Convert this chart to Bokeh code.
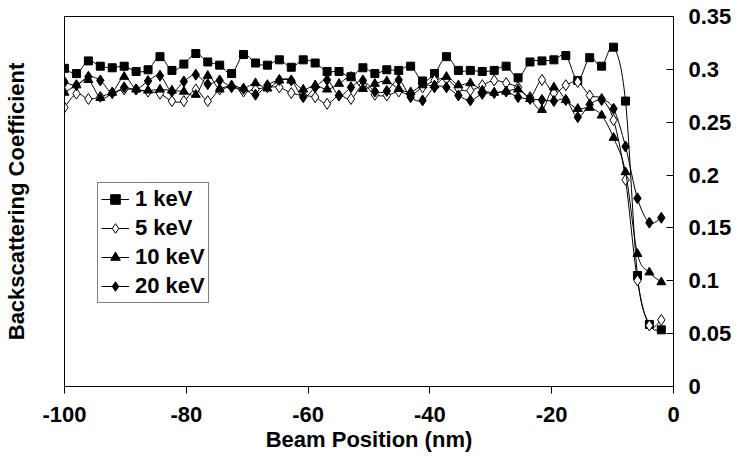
from bokeh.plotting import figure
from bokeh.models import LinearAxis, FixedTicker, Legend, LegendItem, Range1d, ColumnDataSource
from bokeh.embed import file_html
from bokeh.resources import INLINE

# ---- data ----
beam_position = [-100.0, -98.04, -96.08, -94.12, -92.16, -90.2, -88.24, -86.28, -84.32, -82.36,
                 -80.4, -78.44, -76.48, -74.52, -72.56, -70.6, -68.64, -66.68, -64.72, -62.76,
                 -60.8, -58.84, -56.88, -54.92, -52.96, -51.0, -49.04, -47.08, -45.12, -43.16,
                 -41.2, -39.24, -37.28, -35.32, -33.36, -31.4, -29.44, -27.48, -25.52, -23.56,
                 -21.6, -19.64, -17.68, -15.72, -13.76, -11.8, -9.84, -7.88, -5.92, -3.96, -2.0]

kev1 = [0.301, 0.296, 0.308, 0.303, 0.3015, 0.303, 0.298, 0.2996, 0.312, 0.299,
        0.305, 0.315, 0.307, 0.304, 0.296, 0.314, 0.306, 0.304, 0.309, 0.302,
        0.309, 0.306, 0.298, 0.298, 0.293, 0.3015, 0.296, 0.2996, 0.299, 0.303,
        0.289, 0.296, 0.312, 0.299, 0.299, 0.298, 0.299, 0.303, 0.292, 0.307,
        0.308, 0.309, 0.313, 0.2895, 0.311, 0.303, 0.321, 0.27, 0.105, 0.0587, 0.0536]

kev5 = [0.264, 0.277, 0.272, 0.274, 0.278, 0.281, 0.281, 0.279, 0.277, 0.27,
        0.27, 0.281, 0.27, 0.281, 0.284, 0.279, 0.281, 0.283, 0.283, 0.2776,
        0.2753, 0.2737, 0.2674, 0.2753, 0.272, 0.285, 0.276, 0.2753, 0.279, 0.276,
        0.283, 0.2895, 0.291, 0.2816, 0.280, 0.285, 0.2895, 0.287, 0.283, 0.2737,
        0.290, 0.2776, 0.285, 0.288, 0.2753, 0.272, 0.252, 0.1955, 0.1003, 0.0577, 0.063]

kev10 = [0.278, 0.285, 0.29, 0.273, 0.278, 0.293, 0.281, 0.28, 0.281, 0.280,
         0.279, 0.276, 0.294, 0.281, 0.285, 0.282, 0.287, 0.282, 0.2895, 0.2895,
         0.281, 0.285, 0.281, 0.2864, 0.293, 0.2816, 0.2864, 0.2888, 0.2816, 0.2785,
         0.285, 0.285, 0.293, 0.285, 0.287, 0.28, 0.278, 0.279, 0.281, 0.272,
         0.2617, 0.283, 0.271, 0.2627, 0.2637, 0.2564, 0.2353, 0.2028, 0.1255, 0.108, 0.0987]

kev20 = [0.288, 0.285, 0.293, 0.2895, 0.2775, 0.283, 0.281, 0.289, 0.294, 0.279,
         0.2886, 0.295, 0.286, 0.2895, 0.283, 0.2816, 0.276, 0.285, 0.29, 0.2895,
         0.2737, 0.283, 0.29, 0.2753, 0.283, 0.2895, 0.279, 0.2795, 0.29, 0.2737,
         0.2706, 0.283, 0.283, 0.2753, 0.2706, 0.2768, 0.2776, 0.279, 0.2737, 0.272,
         0.271, 0.270, 0.271, 0.2548, 0.2668, 0.271, 0.2627, 0.227, 0.178, 0.155, 0.1596]

series_labels = ["1 keV", "5 keV", "10 keV", "20 keV"]
x_ticks = [-100, -80, -60, -40, -20, 0]
x_tick_labels = ["-100", "-80", "-60", "-40", "-20", "0"]
y_ticks = [0, 0.05, 0.1, 0.15, 0.2, 0.25, 0.3, 0.35]
y_tick_labels = ["0", "0.05", "0.1", "0.15", "0.2", "0.25", "0.3", "0.35"]

FONT = "Liberation Sans"
FS = "22px"


def smooth_segments(xs, ys):
    """Cubic Bezier segments through the points (Catmull-Rom style smoothing)."""
    n = len(xs)
    d = dict(x0=[], y0=[], x1=[], y1=[], cx0=[], cy0=[], cx1=[], cy1=[])
    for i in range(n - 1):
        a = i - 1 if i > 0 else i
        b = i + 2 if i + 2 < n else i + 1
        d["x0"].append(xs[i]); d["y0"].append(ys[i])
        d["x1"].append(xs[i + 1]); d["y1"].append(ys[i + 1])
        d["cx0"].append(xs[i] + (xs[i + 1] - xs[a]) / 6.0)
        d["cy0"].append(ys[i] + (ys[i + 1] - ys[a]) / 6.0)
        d["cx1"].append(xs[i + 1] - (xs[b] - xs[i]) / 6.0)
        d["cy1"].append(ys[i + 1] - (ys[b] - ys[i]) / 6.0)
    return ColumnDataSource(d)


p = figure(frame_width=609, frame_height=370,
           x_range=Range1d(-100, 0), y_range=Range1d(0, 0.35),
           output_backend="svg", toolbar_location=None,
           x_axis_location="below", y_axis_location="right",
           min_border_left=63, min_border_right=62,
           min_border_top=16, min_border_bottom=75)
p.grid.visible = False
p.outline_line_color = "black"
p.outline_line_width = 1
p.background_fill_color = "white"
p.border_fill_color = "white"

# x axis
xa = p.xaxis[0]
xa.ticker = FixedTicker(ticks=x_ticks)
xa.major_label_overrides = {t: s for t, s in zip(x_ticks, x_tick_labels)}
xa.major_tick_in = 0
xa.major_tick_out = 7
xa.minor_tick_line_color = None
xa.axis_line_color = "black"
xa.major_label_text_font = FONT
xa.major_label_text_font_style = "bold"
xa.major_label_text_font_size = FS
xa.major_label_text_color = "black"
xa.major_label_standoff = 13
xa.axis_label = "Beam Position (nm)"
xa.axis_label_text_font = FONT
xa.axis_label_text_font_style = "bold"
xa.axis_label_text_font_size = FS
xa.axis_label_text_color = "black"
xa.axis_label_standoff = 2

# right y axis with tick labels
ya = p.yaxis[0]
ya.ticker = FixedTicker(ticks=y_ticks)
ya.major_label_overrides = {t: s for t, s in zip(y_ticks, y_tick_labels)}
ya.major_tick_in = 7
ya.major_tick_out = 0
ya.minor_tick_line_color = None
ya.axis_line_color = "black"
ya.major_label_text_font = FONT
ya.major_label_text_font_style = "bold"
ya.major_label_text_font_size = FS
ya.major_label_text_color = "black"
ya.major_label_standoff = 15

# left axis: only the title
la = LinearAxis(ticker=FixedTicker(ticks=[]))
la.major_tick_in = 0
la.major_tick_out = 0
la.minor_tick_line_color = None
la.axis_line_color = "black"
la.axis_label = "Backscattering Coefficient"
la.axis_label_text_font = FONT
la.axis_label_text_font_style = "bold"
la.axis_label_text_font_size = FS
la.axis_label_text_color = "black"
la.axis_label_standoff = 36
p.add_layout(la, "left")

series = [kev1, kev5, kev10, kev20]
markers = [("square", 8, "black"), ("diamond", 11, "white"), ("triangle", 9, "black"), ("diamond", 11, "black")]

items = []
for label, ys, (mk, sz, fill) in zip(series_labels, series, markers):
    src = smooth_segments(beam_position, ys)
    br = p.bezier(x0="x0", y0="y0", x1="x1", y1="y1", cx0="cx0", cy0="cy0",
                  cx1="cx1", cy1="cy1", source=src, line_color="black", line_width=1)
    sr = p.scatter(beam_position, ys, marker=mk, size=sz, fill_color=fill,
                   line_color="black", line_width=1)
    items.append(LegendItem(label=label, renderers=[br, sr]))

legend = Legend(items=items, location=(33, 83))
legend.border_line_color = "black"
legend.border_line_width = 1
legend.background_fill_color = "white"
legend.background_fill_alpha = 1
legend.label_text_font = FONT
legend.label_text_font_style = "bold"
legend.label_text_font_size = FS
legend.label_text_color = "black"
legend.glyph_width = 28
legend.glyph_height = 24
legend.label_height = 24
legend.label_standoff = 6
legend.spacing = 3
legend.padding = 3
legend.margin = 0
p.add_layout(legend, "center")

open("out.html", "w").write(file_html(p, INLINE))
